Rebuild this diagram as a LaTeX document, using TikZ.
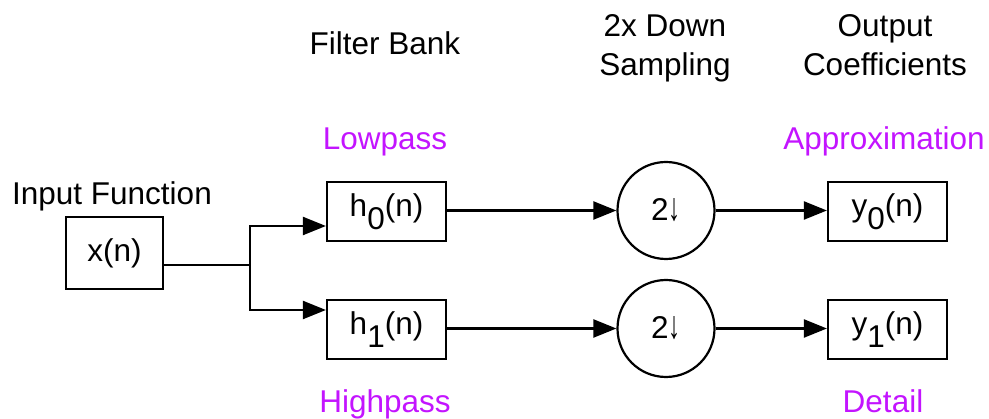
\documentclass[tikz,border=0pt]{standalone}
\usepackage{fontspec}
\usepackage{graphicx}
\setmainfont{Liberation Sans}
\usetikzlibrary{arrows.meta,calc}
\definecolor{violetlabel}{RGB}{195,20,255}
\newcommand{\dnarrow}{\resizebox{12pt}{22pt}{↓}}
\begin{document}
\begin{tikzpicture}[x=1pt,y=-1pt,
  every node/.style={font=\fontsize{31.5}{38}\selectfont, inner sep=0pt},
  blockbox/.style={draw=black, line width=2.2pt, minimum width=119pt, minimum height=59pt},
  inbox/.style={draw=black, line width=2.2pt, minimum width=97pt, minimum height=72pt},
  downcirc/.style={draw=black, line width=2.2pt, circle, minimum size=97pt},
  heading/.style={anchor=base, align=center, text=black},
  bandlabel/.style={anchor=base, text=violetlabel},
  conn/.style={line width=2.2pt, draw=black},
  arr/.style={conn, -{Triangle[length=23pt,width=18pt]}}
]
\useasboundingbox (0,0) rectangle (989,419);

% headings
\node[heading] (hin) at (112,205) {Input Function};
\node[heading] (hfb) at (385,55) {Filter Bank};
\node[heading] (hds1) at (665,37) {2x Down};
\node[heading] (hds2) at (665,76) {Sampling};
\node[heading] (hoc1) at (885,37) {Output};
\node[heading] (hoc2) at (885,76) {Coefficients};

% band labels
\node[bandlabel] (low) at (385,150) {Lowpass};
\node[bandlabel] (high) at (385,413) {Highpass};
\node[bandlabel] (appr) at (884,150) {Approximation};
\node[bandlabel] (det) at (883,413) {Detail};

% blocks
\node[inbox] (xn) at (114.5,253) {x(n)};
\node[blockbox] (h0) at (386.5,211.5) {h\raisebox{-13pt}{0}(n)};
\node[blockbox] (h1) at (386.5,329.5) {h\raisebox{-13pt}{1}(n)};
\node[downcirc] (d0) at (666,210.5) {2\dnarrow};
\node[downcirc] (d1) at (666,328.5) {2\dnarrow};
\node[blockbox] (y0) at (887.5,211.5) {y\raisebox{-13pt}{0}(n)};
\node[blockbox] (y1) at (887.5,329.5) {y\raisebox{-13pt}{1}(n)};

% connectors
\coordinate (split) at (250,265);
\coordinate (ta) at (250,226);
\coordinate (tb) at (250,310);
\draw[conn] (xn.east |- split) -- (split);
\draw[arr] (split) |- (h0.west |- ta);
\draw[arr] (split) |- (h1.west |- tb);
\draw[arr] (h0.east |- d0.west) -- (d0.west);
\draw[arr] (h1.east |- d1.west) -- (d1.west);
\draw[arr] (d0.east) -- (y0.west |- d0.east);
\draw[arr] (d1.east) -- (y1.west |- d1.east);
\end{tikzpicture}
\end{document}
